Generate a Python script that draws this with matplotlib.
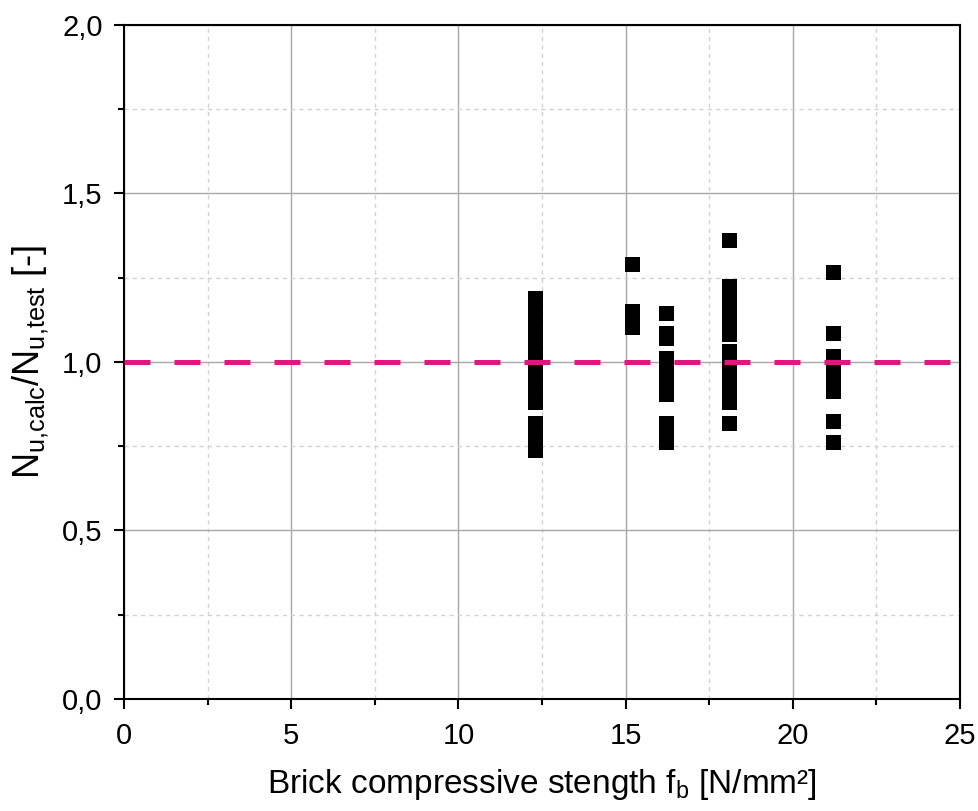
import matplotlib.pyplot as plt
from matplotlib.ticker import MultipleLocator, FuncFormatter

plt.rcParams['font.family'] = ['Liberation Sans', 'DejaVu Sans']
plt.rcParams['mathtext.fontset'] = 'custom'
plt.rcParams['mathtext.rm'] = 'Liberation Sans'
plt.rcParams['mathtext.it'] = 'Liberation Sans'

# brick strength groups and the ratios
fb_12 = [12.3] * 15
ratio_12 = [1.19, 1.15, 1.12, 1.08, 1.05, 1.02, 0.99, 0.96, 0.93, 0.90, 0.88,
            0.82, 0.79, 0.76, 0.74]
fb_15 = [15.2] * 4
ratio_15 = [1.29, 1.15, 1.13, 1.105]
fb_16 = [16.2] * 11
ratio_16 = [1.144, 1.085, 1.07, 1.013, 0.98, 0.95, 0.92, 0.904, 0.82, 0.79, 0.764]
fb_18 = [18.1] * 14
ratio_18 = [1.361, 1.224, 1.19, 1.16, 1.13, 1.10, 1.082,
            1.034, 1.00, 0.97, 0.94, 0.91, 0.88, 0.818]
fb_21 = [21.2] * 9
ratio_21 = [1.266, 1.085, 1.019, 0.99, 0.96, 0.93, 0.915, 0.826, 0.764]

ref_x = [0, 25]
ref_y = [1.0, 1.0]

fig = plt.figure(figsize=(9.79, 8.11), dpi=100)
ax = fig.add_axes([0.1267, 0.1381, 0.8539, 0.8311])

for xs, ys in [(fb_12, ratio_12), (fb_15, ratio_15), (fb_16, ratio_16),
               (fb_18, ratio_18), (fb_21, ratio_21)]:
    ax.plot(xs, ys, ls='none', marker='s', ms=10.8, mew=0, color='black', zorder=3)

# reference line
ax.plot(ref_x, ref_y, color='#E0177F', lw=3.6, ls=(0, (5.2, 4.8)), zorder=4)

ax.set_xlim(0, 25)
ax.set_ylim(0, 2.0)
ax.xaxis.set_major_locator(MultipleLocator(5))
ax.xaxis.set_minor_locator(MultipleLocator(2.5))
ax.yaxis.set_major_locator(MultipleLocator(0.5))
ax.yaxis.set_minor_locator(MultipleLocator(0.25))
ax.yaxis.set_major_formatter(FuncFormatter(lambda v, p: f'{v:.1f}'.replace('.', ',')))

ax.grid(which='major', color='#A8A8A8', lw=1.0, ls='-', zorder=0)
ax.grid(which='minor', color='#D2D2D2', lw=1.0, ls=(0, (3, 3)), zorder=0)
ax.set_axisbelow(True)

for s in ax.spines.values():
    s.set_linewidth(1.5)
ax.tick_params(which='major', direction='out', length=7.5, width=1.5, labelsize=21)
ax.tick_params(axis='x', which='major', pad=9)
ax.tick_params(axis='y', which='major', pad=8)
ax.tick_params(which='minor', direction='out', length=4, width=1.5)

ax.set_xlabel('Brick compressive stength f$_\\mathregular{b}$ [N/mm²]', fontsize=24, labelpad=12)
ax.set_ylabel('$\\mathregular{N_{u{,}calc}/N_{u{,}test}}$ [-]', fontsize=26, labelpad=8)

fig.savefig('out.png', dpi=100)
